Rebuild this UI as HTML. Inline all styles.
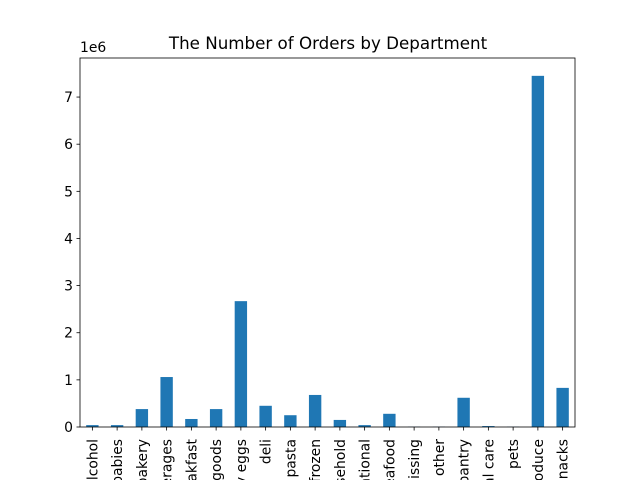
<!DOCTYPE html>
<html><head><meta charset="utf-8"><style>
html,body{margin:0;background:#fff;width:640px;height:480px;overflow:hidden;}
svg{display:block;font-family:"DejaVu Sans","Liberation Sans",sans-serif;}
</style></head><body>
<svg id="chart" width="640" height="480" viewBox="0 0 640 480">
<text x="328" y="49" text-anchor="middle" font-size="16.7">The Number of Orders by Department</text>
<text x="80" y="52" font-size="13.9">1e6</text>
<g id="bars"></g><g id="yticks"></g><g id="xticks"></g>
<rect x="80" y="58" width="495" height="369" fill="none" stroke="#000" stroke-width="0.8"/>
</svg>
<script>
const categories=["alcohol","babies","bakery","beverages","breakfast","canned goods","dairy eggs","deli","dry goods pasta","frozen","household","international","meat seafood","missing","other","pantry","personal care","pets","produce","snacks"];
const orders=[0.04,0.04,0.38,1.06,0.17,0.38,2.67,0.45,0.25,0.68,0.15,0.04,0.28,0.005,0.005,0.62,0.02,0.005,7.45,0.83];
const yTicks=[0,1,2,3,4,5,6,7];
const L=80,R=575,T=58,B=427,ymax=7.8286;
const NS="http://www.w3.org/2000/svg";
const y=v=>B-(v/ymax)*(B-T);
const step=(R-L)/categories.length;
const x=i=>L+step*(i+0.5);
const bars=document.getElementById('bars'),yt=document.getElementById('yticks'),xt=document.getElementById('xticks');
function mk(tag,attrs){const e=document.createElementNS(NS,tag);for(const k in attrs)e.setAttribute(k,attrs[k]);return e;}
orders.forEach((v,i)=>{
  const r=mk('rect',{x:x(i)-step/4,y:y(v),width:step/2,height:B-y(v),fill:'#1f77b4'});
  
  
  bars.appendChild(r);
  const tl=mk('line',{x1:x(i),x2:x(i),y1:B,y2:B+3.5,stroke:'#000','stroke-width':0.8});
  
  
  xt.appendChild(tl);
  const t=mk('text',{transform:`translate(${x(i)+5},${B+12}) rotate(-90)`,'text-anchor':'end','font-size':13.9});
  t.textContent=categories[i];
  
  
  xt.appendChild(t);
});
yTicks.forEach(v=>{
  const tl=mk('line',{x1:L-3.5,x2:L,y1:y(v),y2:y(v),stroke:'#000','stroke-width':0.8});
  
  
  yt.appendChild(tl);
  const t=mk('text',{x:L-7,y:y(v)+5,'text-anchor':'end','font-size':13.9});
  t.textContent=v;
  
  
  yt.appendChild(t);
});
</script>
</body></html>
